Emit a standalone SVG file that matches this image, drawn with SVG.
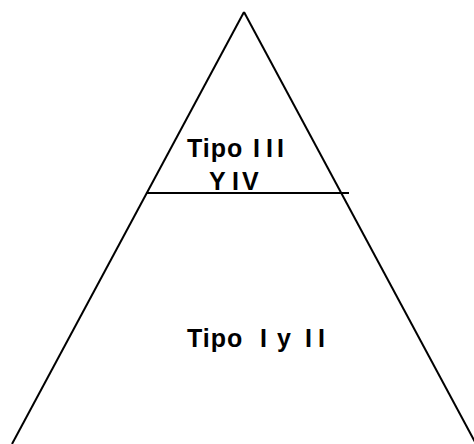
<svg xmlns="http://www.w3.org/2000/svg" width="474" height="444" viewBox="0 0 474 444">
<style>
.ln{stroke:#000;stroke-width:2;fill:none}
.t{font-family:"Liberation Sans",Arial,sans-serif;font-weight:bold;font-size:25px;fill:#000;letter-spacing:1px}
</style>
<rect width="474" height="444" fill="#fff"/>
<g id="connectors">
<line class="ln" x1="244" y1="12" x2="12" y2="444"/>
<line class="ln" x1="244" y1="12" x2="475" y2="442"/>
<line class="ln" x1="146" y1="193" x2="349" y2="193"/>
</g>
<g id="top">
<text class="t" y="157"><tspan x="187">Tipo</tspan><tspan x="253">I</tspan><tspan x="266">I</tspan><tspan x="277">I</tspan></text>
<text class="t" y="190"><tspan x="209">Y</tspan><tspan x="232">I</tspan><tspan x="242">V</tspan></text>
</g>
<g id="bottom">
<text class="t" y="347"><tspan x="187">Tipo</tspan><tspan x="260">I</tspan><tspan x="277">y</tspan><tspan x="305">I</tspan><tspan x="318">I</tspan></text>
</g>
</svg>
